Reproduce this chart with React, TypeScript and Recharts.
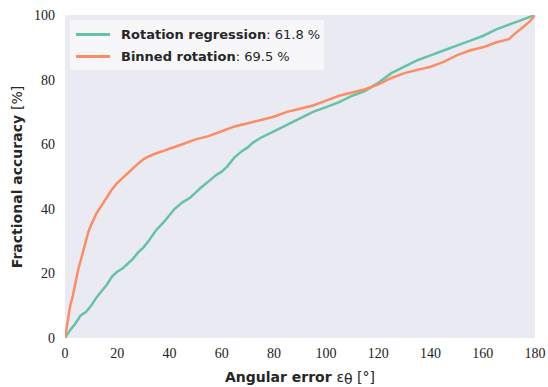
import React from "react";
import { LineChart, Line, XAxis, YAxis, CartesianGrid, Legend, ReferenceArea } from "recharts";

const regX = [0, 2, 4, 6, 8, 10, 12, 14, 16, 18, 20, 22, 24, 26, 28, 30, 32, 35, 38, 40, 42, 45, 48, 50, 52, 55, 58, 60, 62, 65, 68, 70, 72, 75, 80, 85, 90, 95, 100, 105, 110, 115, 120, 125, 130, 135, 140, 145, 150, 155, 160, 165, 170, 175, 180];
const regY = [0, 2.5, 4.5, 7, 8, 10, 12.5, 14.5, 16.5, 19, 20.5, 21.5, 23, 24.5, 26.5, 28, 30, 33.5, 36, 38, 40, 42, 43.5, 45, 46.5, 48.5, 50.5, 51.5, 53, 56, 58, 59, 60.5, 62, 64, 66, 68, 70, 71.5, 73, 75, 76.5, 79, 82, 84, 86, 87.5, 89, 90.5, 92, 93.5, 95.5, 97, 98.5, 100];

const binX = [0, 1, 2, 3, 4, 5, 6, 7, 8, 9, 10, 12, 14, 16, 18, 20, 22, 24, 26, 28, 30, 32, 35, 38, 40, 45, 50, 55, 60, 65, 70, 75, 80, 85, 90, 95, 100, 105, 110, 115, 120, 125, 130, 135, 140, 145, 150, 155, 160, 165, 170, 172, 175, 178, 180];
const binY = [0, 5, 10, 13, 17, 21, 24, 27, 30, 33, 35, 38.5, 41, 43.5, 46, 48, 49.5, 51, 52.5, 54, 55.3, 56.2, 57.2, 58, 58.6, 60, 61.5, 62.5, 64, 65.5, 66.5, 67.5, 68.5, 70, 71, 72, 73.5, 75, 76, 77, 78.5, 80.5, 82, 83, 84, 85.5, 87.5, 89, 90, 91.5, 92.5, 94, 96, 98, 100];

const xTicks = [0, 20, 40, 60, 80, 100, 120, 140, 160, 180];
const yTicks = [0, 20, 40, 60, 80, 100];

const seriesNames = ["Rotation regression", "Binned rotation"];
const seriesScores = ["61.8", "69.5"];
const seriesColors = ["#66c2a5", "#fc8d62"];

const regData = regX.map((x, i) => ({ x, y: regY[i] }));
const binData = binX.map((x, i) => ({ x, y: binY[i] }));

const tickFont = { fontFamily: "Liberation Serif, serif", fontSize: 14, fill: "#222" };

const LegendBox = () => (
  <div
    style={{
      position: "absolute",
      left: 70,
      top: 20,
      width: 254,
      height: 50,
      background: "rgba(255,255,255,0.6)",
      borderRadius: 2,
      fontFamily: "DejaVu Sans, sans-serif",
      fontSize: 13,
      color: "#262626",
    }}
  >
    {seriesNames.map((n, i) => (
      <div key={n} style={{ position: "absolute", left: 6, top: 4 + i * 22, height: 20, display: "flex", alignItems: "center", whiteSpace: "nowrap" }}>
        <div style={{ width: 34, height: 3, background: seriesColors[i], marginRight: 11 }} />
        <span style={{ fontWeight: "bold" }}>{n}</span>
        <span>: {seriesScores[i]} %</span>
      </div>
    ))}
  </div>
);

export default function App() {
  return (
    <div style={{ position: "absolute", left: 0, top: 0, width: 548, height: 387, background: "#fff" }}>
      <LineChart width={548} height={387} margin={{ top: 15, right: 13, bottom: 0, left: 0 }}>
        <ReferenceArea x1={0} x2={180} y1={0} y2={100} fill="#EAEAF2" fillOpacity={1} stroke="none" />
        <CartesianGrid stroke="#fff" strokeWidth={1.2} vertical horizontal fill="none" />
        <XAxis
          type="number"
          dataKey="x"
          domain={[0, 180]}
          ticks={xTicks}
          axisLine={false}
          tickLine={false}
          tick={tickFont}
          tickMargin={4}
          height={49}
          allowDataOverflow
          label={{
            value: "Angular error",
            content: () => (
              <text x={300} y={382} textAnchor="middle" fontFamily="DejaVu Sans, sans-serif" fontSize={14} fill="#262626">
                <tspan fontWeight="bold">Angular error </tspan>
                <tspan>ε</tspan>
                <tspan dy={2}>θ</tspan>
                <tspan dy={-2}> [°]</tspan>
              </text>
            ),
          }}
        />
        <YAxis
          type="number"
          domain={[0, 100]}
          ticks={yTicks}
          axisLine={false}
          tickLine={false}
          tick={tickFont}
          tickMargin={4}
          width={65}
          allowDataOverflow
          label={{
            value: "Fractional accuracy [%]",
            content: () => (
              <text x={22} y={177} transform="rotate(-90 22 177)" textAnchor="middle" fontFamily="DejaVu Sans, sans-serif" fontSize={14} fill="#262626">
                <tspan fontWeight="bold">Fractional accuracy </tspan>
                <tspan>[%]</tspan>
              </text>
            ),
          }}
        />
        <Line data={regData} dataKey="y" name={seriesNames[0]} stroke={seriesColors[0]} strokeWidth={2.5} dot={false} isAnimationActive={false} type="linear" />
        <Line data={binData} dataKey="y" name={seriesNames[1]} stroke={seriesColors[1]} strokeWidth={2.5} dot={false} isAnimationActive={false} type="linear" />
        <Legend content={() => null} />
      </LineChart>
      <LegendBox />
    </div>
  );
}
